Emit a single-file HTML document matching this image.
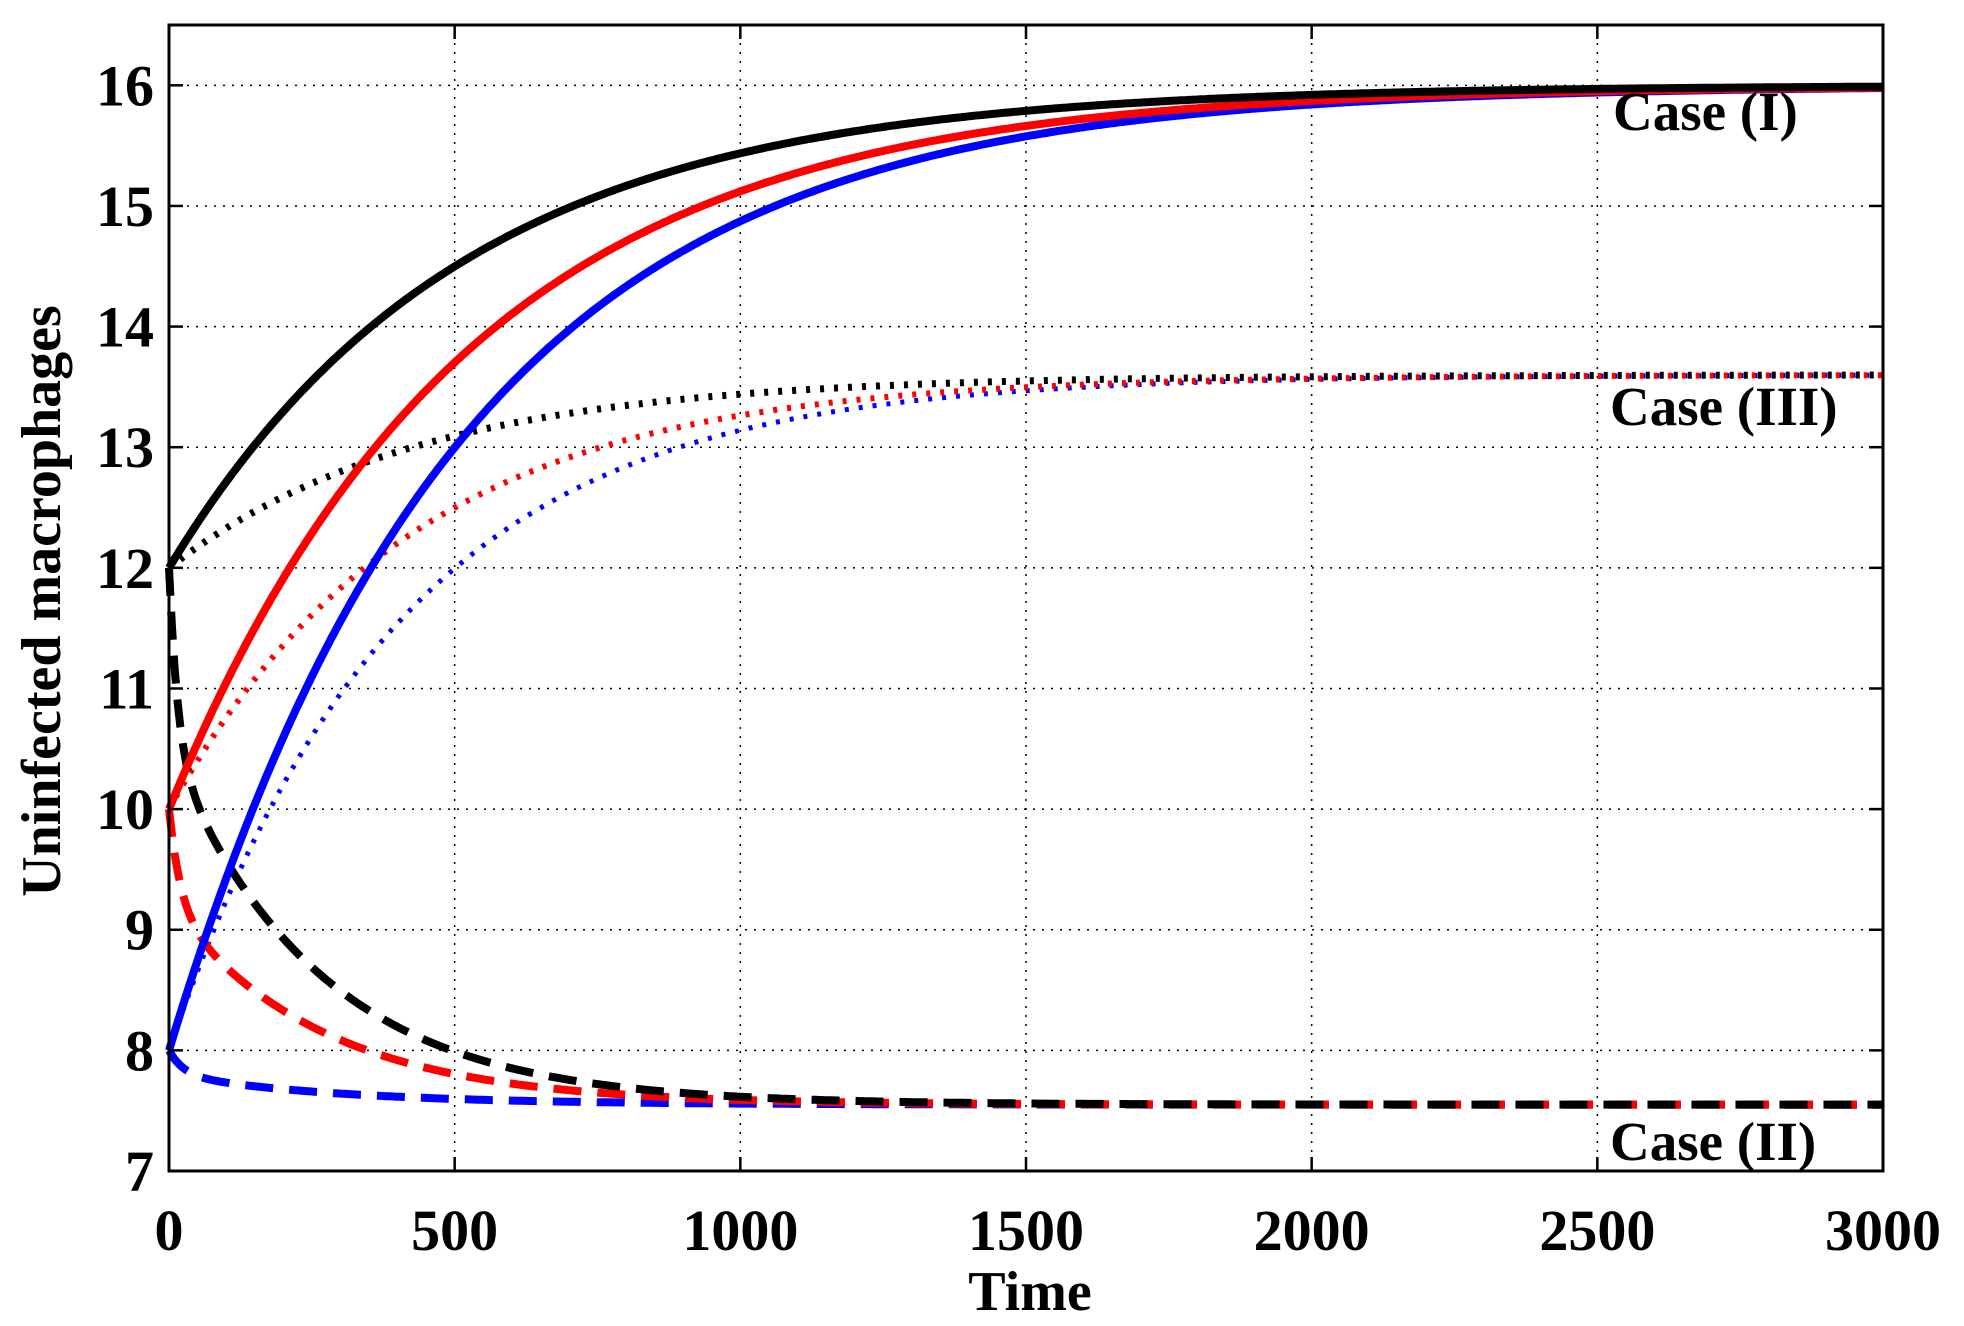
<!DOCTYPE html>
<html><head><meta charset="utf-8"><style>
html,body{margin:0;padding:0;background:#fff;}
svg{display:block;}
text{font-family:"Liberation Serif",serif;font-weight:bold;fill:#000;}
</style></head><body>
<svg id="s" width="1964" height="1326" viewBox="0 0 1964 1326" xmlns="http://www.w3.org/2000/svg">
<g id="grid" stroke="#000" stroke-width="1.5" stroke-dasharray="2,7"></g>
<g id="curves" fill="none" stroke-width="7"></g>
<rect x="169" y="25" width="1714" height="1146" fill="none" stroke="#000" stroke-width="3"/>
<g id="ticks" stroke="#000" stroke-width="2.5"></g>
<g id="lab" font-size="58"></g>
<text x="1613" y="130" font-size="55">Case (I)</text>
<text x="1610" y="425" font-size="55">Case (III)</text>
<text x="1610" y="1160" font-size="55">Case (II)</text>
<text x="1030" y="1310" font-size="56" text-anchor="middle">Time</text>
<text transform="translate(60,601) rotate(-90)" font-size="56" text-anchor="middle">Uninfected macrophages</text>
</svg>
<script>
const L=169,R=1883,T=25,B=1171;
const X=t=>L+(t/3000)*(R-L), Y=v=>B-(v-7)/9.5*(B-T);
const ns="http://www.w3.org/2000/svg";
function el(p,tag,a,txt){const e=document.createElementNS(ns,tag);for(const k in a)e.setAttribute(k,a[k]);if(txt!==undefined)e.textContent=txt;document.getElementById(p).appendChild(e);}
for(let t=500;t<3000;t+=500) el("grid","line",{x1:X(t),x2:X(t),y1:T,y2:B});
for(let v=8;v<=16;v++) el("grid","line",{x1:L,x2:R,y1:Y(v),y2:Y(v)});
for(let t=0;t<=3000;t+=500){el("ticks","line",{x1:X(t),x2:X(t),y1:B,y2:B-14});el("ticks","line",{x1:X(t),x2:X(t),y1:T,y2:T+14});
 el("lab","text",{x:X(t),y:1250,"text-anchor":"middle"},String(t));}
for(let v=7;v<=16;v++){el("ticks","line",{x1:L,x2:L+14,y1:Y(v),y2:Y(v)});el("ticks","line",{x1:R,x2:R-14,y1:Y(v),y2:Y(v)});
 el("lab","text",{x:154,y:Y(v)+20,"text-anchor":"end"},String(v));}
function path(f,col,dash,w){let d="";for(let t=0;t<=3000;t+=5){d+=(t?"L":"M")+X(t).toFixed(1)+","+Y(f(t)).toFixed(1);}
 const a={d:d,stroke:col};if(dash)a["stroke-dasharray"]=dash;if(w)a["stroke-width"]=w;el("curves","path",a);}
const E=Math.exp;
const dot="4,10", dsh="28,16";
path(t=>13.6-5.6*E(-0.0025*t),"#00f",dot,5);
path(t=>13.6-3.6*E(-0.00237*t),"#f00",dot,6);
path(t=>13.6-1.6*E(-0.0023*t),"#000",dot,7);
path(t=>7.55+0.2*E(-t/25)+0.25*E(-t/300),"#00f",dsh,8);
path(t=>7.55+0.8*E(-t/20)+1.65*E(-t/267),"#f00",dsh,8);
path(t=>7.55+1.5*E(-t/15)+2.95*E(-t/263),"#000",dsh,8);
path(t=>16-8*E(-0.00196*t),"#00f",null,8);
path(t=>16-6*E(-0.00192*t),"#f00",null,8);
path(t=>16-4*E(-0.00196*t),"#000",null,8);
</script>
</body></html>
